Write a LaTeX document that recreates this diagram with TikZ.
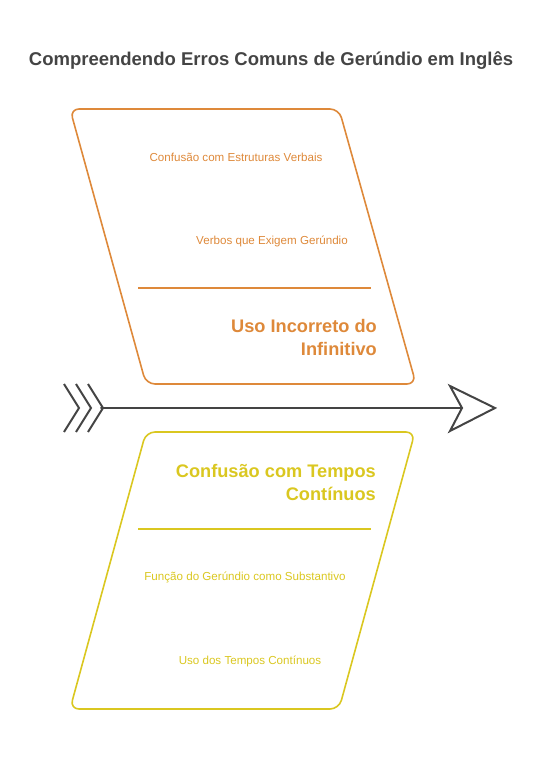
\documentclass[tikz,border=0pt]{standalone}
\usepackage{fontspec}
\setmainfont{Liberation Sans}
\definecolor{orng}{HTML}{DE893A}
\definecolor{yllw}{HTML}{DAC720}
\definecolor{dgry}{HTML}{444444}
\begin{document}
\begin{tikzpicture}[x=1pt,y=-1pt,
  boxline/.style={line width=1.6pt,rounded corners=9pt,line join=round},
  divline/.style={line width=1.5pt},
  small/.style={font=\fontsize{11.6}{13}\selectfont,inner sep=0pt},
  head/.style={font=\fontsize{18.2}{23}\selectfont\bfseries,inner sep=0pt,align=right},
  spine/.style={dgry,line width=2pt,line cap=round,line join=miter}]
\useasboundingbox (0,0) rectangle (542,759);
\node[font=\fontsize{18.5}{20}\selectfont\bfseries,text=dgry,inner sep=0pt] (title) at (271,61) {Compreendendo Erros Comuns de Gerúndio em Inglês};
% top box
\coordinate (a1) at (70,109); \coordinate (a2) at (339,109);
\coordinate (a3) at (416,384); \coordinate (a4) at (146,384);
\draw[orng,boxline] (a1) -- (a2) -- (a3) -- (a4) -- cycle;
\coordinate (d1) at (138,288); \coordinate (d2) at (371,288);
\draw[orng,divline] (d1) -- (d2);
\node[small,text=orng] (t1) at (236,157) {Confusão com Estruturas Verbais};
\node[small,text=orng] (t2) at (272,241) {Verbos que Exigem Gerúndio};
\node[head,text=orng,anchor=east] (h1) at (377,337) {Uso Incorreto do\\Infinitivo};
% bottom box
\coordinate (b1) at (146,432); \coordinate (b2) at (415,432);
\coordinate (b3) at (339,709); \coordinate (b4) at (70,709);
\draw[yllw,boxline] (b1) -- (b2) -- (b3) -- (b4) -- cycle;
\coordinate (e1) at (138,529); \coordinate (e2) at (371,529);
\draw[yllw,divline] (e1) -- (e2);
\node[head,text=yllw,anchor=east] (h2) at (376,482) {Confusão com Tempos\\Contínuos};
\node[small,text=yllw] (t3) at (245,577) {Função do Gerúndio como Substantivo};
\node[small,text=yllw] (t4) at (250,661) {Uso dos Tempos Contínuos};
% spine
\coordinate (s) at (101,408); \coordinate (e) at (462,408);
\draw[spine] (s) -- (e);
\coordinate (p1) at (450,386); \coordinate (p2) at (495,408); \coordinate (p3) at (450,431);
\draw[spine] (p1) -- (p2) -- (p3) -- (e) -- cycle;
\foreach \dx in {0,12,24}{
  \draw[spine,line cap=butt] (64+\dx,384) -- (79+\dx,408) -- (64+\dx,432);
}
\end{tikzpicture}
\end{document}
